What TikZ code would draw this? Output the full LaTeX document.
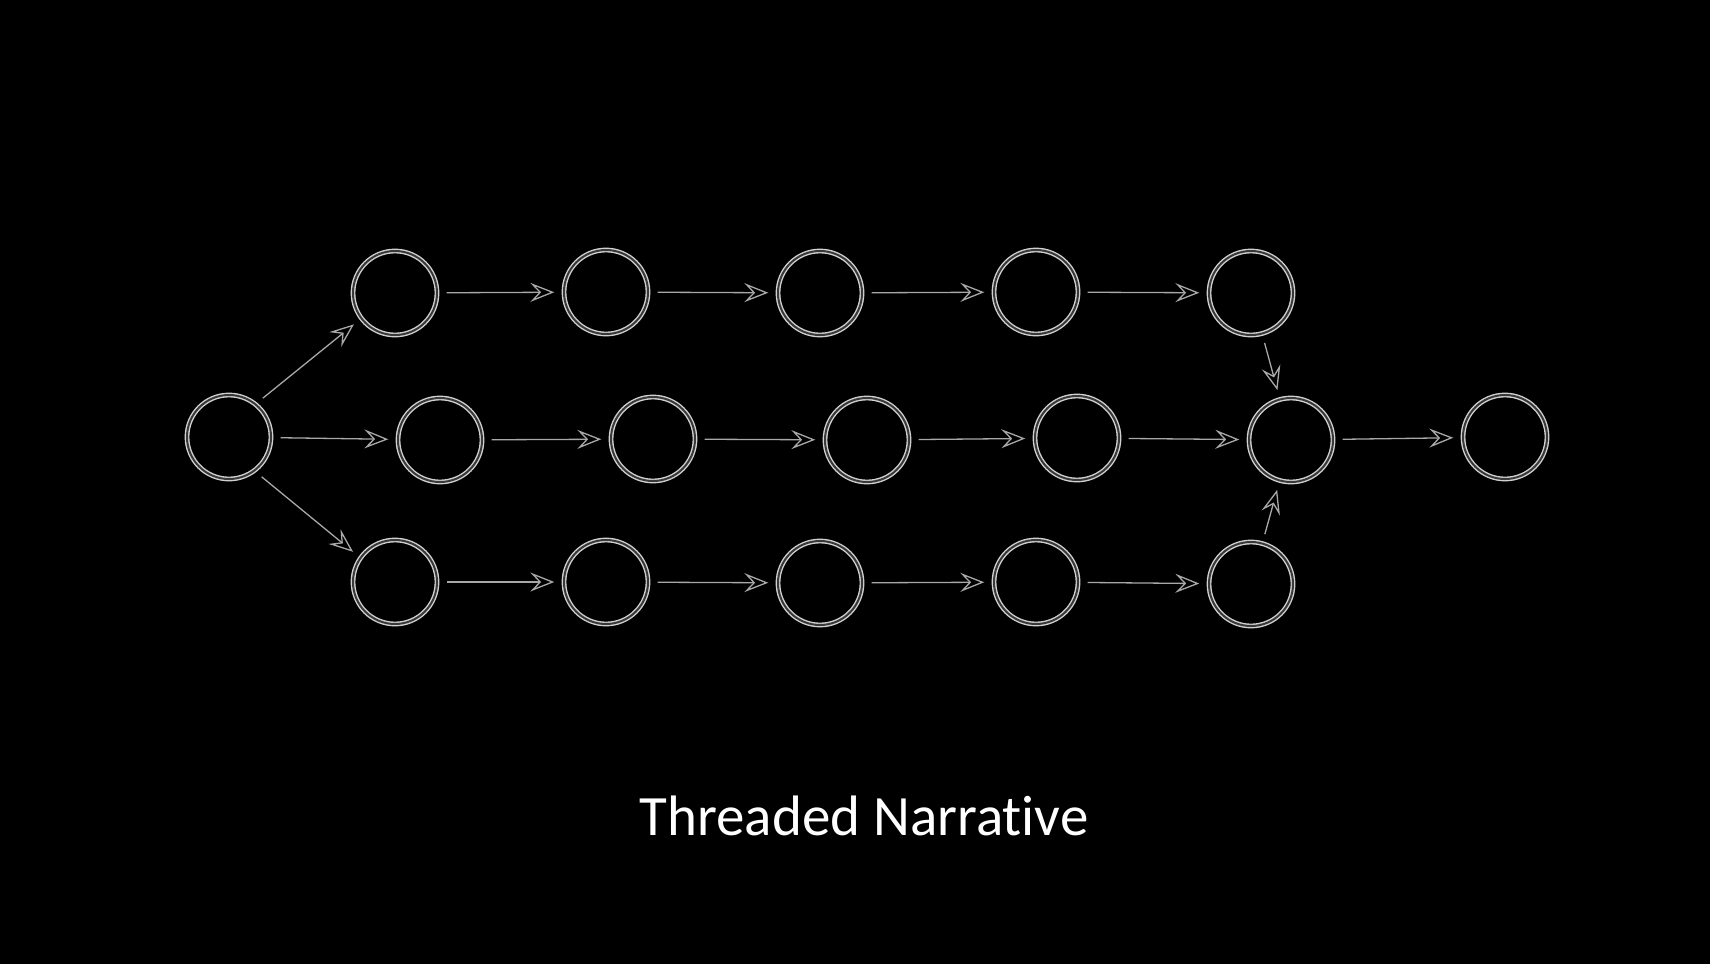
\documentclass[tikz,border=0pt]{standalone}
\usepackage{fontspec}
\setmainfont{Carlito}[Ligatures=NoCommon]
\usetikzlibrary{arrows.meta}
\definecolor{ringcol}{HTML}{D0D0D0}
\definecolor{arrcol}{HTML}{A8A8A8}
\tikzset{
  ring/.style={circle, minimum size=84pt, inner sep=0pt, draw=ringcol, line width=1.4pt, double=black!55!gray, double distance=2pt},
  flow/.style={draw=arrcol, line width=1.3pt, -{Stealth[open, length=24pt, width=19pt, inset=9pt, line width=1.3pt]}, shorten <=9pt, shorten >=9pt},
  caption/.style={text=white, font=\fontsize{57}{62}\selectfont}
}
\begin{document}
\begin{tikzpicture}[x=1pt, y=-1pt]
\fill[black] (0,0) rectangle (1710,964);
\useasboundingbox (0,0) rectangle (1710,964);
% top row
\node[ring] (t1) at (395,293) {};
\node[ring] (t2) at (606,292) {};
\node[ring] (t3) at (820,293) {};
\node[ring] (t4) at (1036,292) {};
\node[ring] (t5) at (1251,293) {};
% middle row
\node[ring] (s)  at (229,437) {};
\node[ring] (m1) at (440,440) {};
\node[ring] (m2) at (653,439) {};
\node[ring] (m3) at (867,440) {};
\node[ring] (m4) at (1077,438) {};
\node[ring] (m5) at (1291,440) {};
\node[ring] (f)  at (1505,437) {};
% bottom row
\node[ring] (b1) at (395,582) {};
\node[ring] (b2) at (606,582) {};
\node[ring] (b3) at (820,583) {};
\node[ring] (b4) at (1036,582) {};
\node[ring] (b5) at (1251,584) {};
% connectors
\draw[flow] (s.51) -- (t1.217);
\draw[flow] (s) -- (m1);
\draw[flow] (s.-53) -- (b1.145);
\draw[flow] (t1) -- (t2);
\draw[flow] (t2) -- (t3);
\draw[flow] (t3) -- (t4);
\draw[flow] (t4) -- (t5);
\draw[flow] (m1) -- (m2);
\draw[flow] (m2) -- (m3);
\draw[flow] (m3) -- (m4);
\draw[flow] (m4) -- (m5);
\draw[flow] (m5) -- (f);
\draw[flow] (b1) -- (b2);
\draw[flow] (b2) -- (b3);
\draw[flow] (b3) -- (b4);
\draw[flow] (b4) -- (b5);
\draw[flow] (t5) -- (m5);
\draw[flow] (b5) -- (m5);
\node[caption] (cap) at (864,816) {Threaded Narrative};
\end{tikzpicture}
\end{document}
